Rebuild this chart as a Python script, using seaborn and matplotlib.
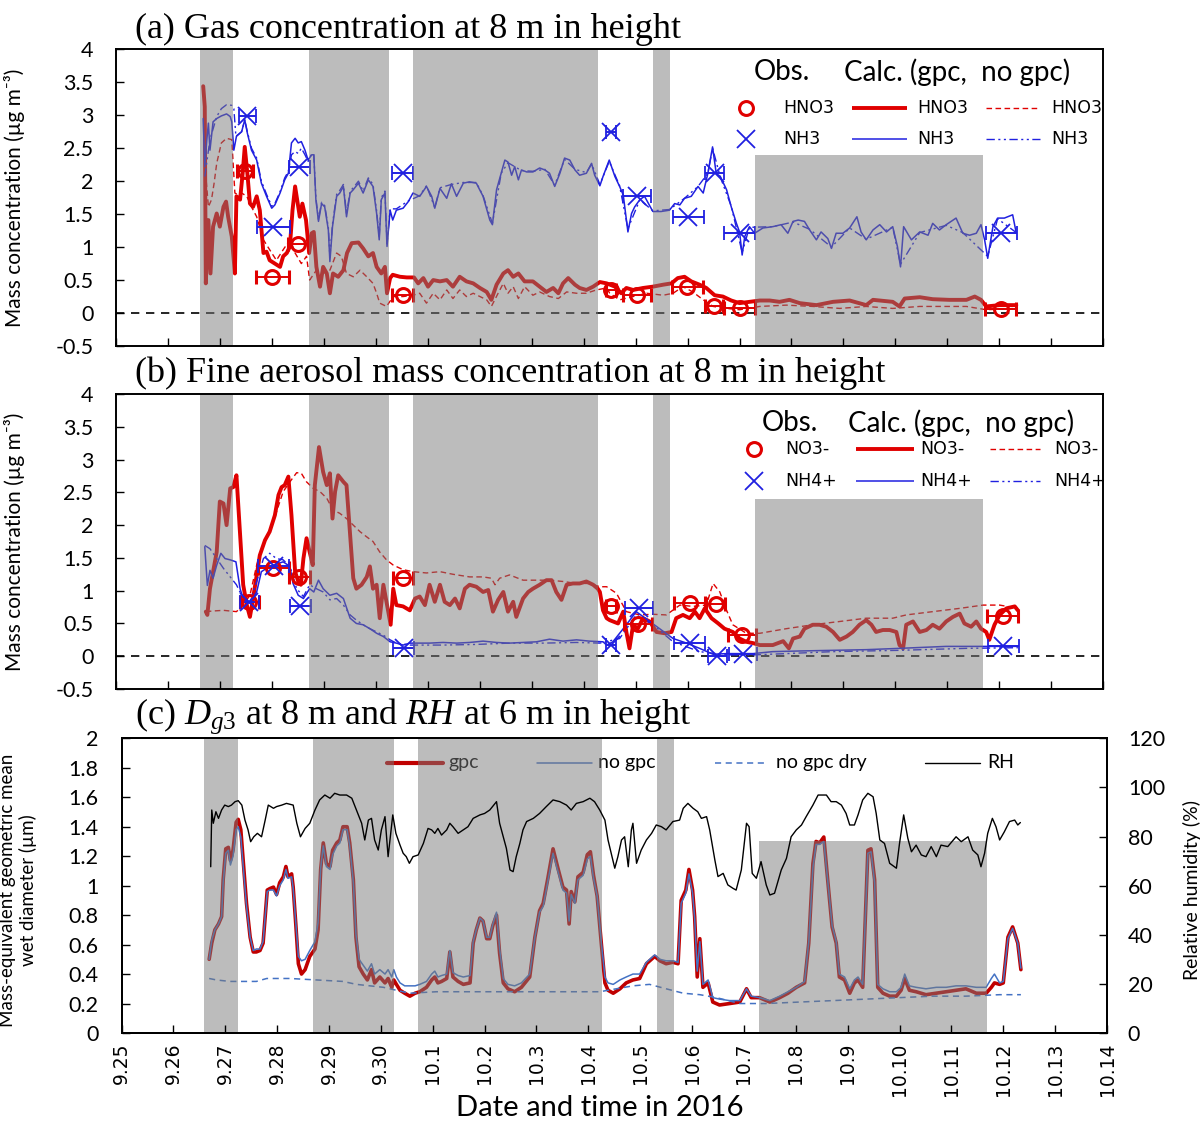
import matplotlib
matplotlib.use("Agg")
import matplotlib.pyplot as plt
import seaborn as sns
import pandas as pd

# ---------------- data (days since 2016-09-25 00:00) ----------------
DAY_LABELS = ["9.25", "9.26", "9.27", "9.28", "9.29", "9.30", "10.1", "10.2", "10.3", "10.4",
              "10.5", "10.6", "10.7", "10.8", "10.9", "10.10", "10.11", "10.12", "10.13", "10.14"]
SHADES = [(1.60, 2.25), (3.70, 5.25), (5.72, 9.27), (10.33, 10.66)]
SHADE_LOW = (12.30, 16.68)          # shaded period drawn only up to a given level
SHADE_LOW_TOP_AB = 2.4
SHADE_LOW_TOP_C = 1.3

# observations: (day, value, half-width of sampling period)
HNO3_OBS = [(2.47, 2.16, 0.15), (3.00, 0.55, 0.32), (3.50, 1.05, 0.20), (5.51, 0.28, 0.20),
            (9.52, 0.35, 0.10), (10.02, 0.27, 0.27), (10.99, 0.40, 0.30), (11.51, 0.11, 0.18),
            (12.00, 0.07, 0.29), (17.03, 0.06, 0.30)]
NH3_OBS = [(2.52, 2.99, 0.17), (3.02, 1.31, 0.32), (3.52, 2.21, 0.20), (5.51, 2.12, 0.20),
           (9.52, 2.75, 0.10), (10.03, 1.78, 0.27), (11.01, 1.46, 0.30), (11.52, 2.12, 0.18),
           (12.00, 1.21, 0.29), (17.04, 1.22, 0.30)]
NO3_OBS = [(2.56, 0.82, 0.18), (3.02, 1.34, 0.30), (3.52, 1.21, 0.20), (5.52, 1.19, 0.20),
           (9.52, 0.77, 0.10), (10.04, 0.49, 0.27), (11.04, 0.81, 0.30), (11.54, 0.79, 0.18),
           (12.05, 0.33, 0.27), (17.07, 0.61, 0.30)]
NH4_OBS = [(2.56, 0.83, 0.18), (3.03, 1.37, 0.30), (3.54, 0.76, 0.20), (5.53, 0.12, 0.20),
           (9.52, 0.17, 0.10), (10.06, 0.73, 0.27), (11.04, 0.20, 0.30), (11.57, 0.00, 0.18),
           (12.06, 0.04, 0.27), (17.08, 0.16, 0.30)]

HNO3_GPC = [(1.67, 3.44), (1.70, 3.13), (1.72, 0.45), (1.77, 1.41), (1.81, 0.60), (1.86, 1.31),
            (1.93, 1.51), (1.99, 1.31), (2.06, 1.61), (2.11, 1.69), (2.15, 1.46), (2.22, 1.16),
            (2.28, 0.60), (2.31, 1.77), (2.38, 1.72), (2.43, 2.12), (2.47, 2.52), (2.52, 2.12),
            (2.57, 1.66), (2.63, 1.61), (2.70, 1.77), (2.76, 1.56), (2.83, 0.91), (2.89, 0.93),
            (2.95, 0.80), (3.05, 0.75), (3.15, 0.70), (3.21, 0.86), (3.28, 0.91), (3.34, 1.01),
            (3.39, 1.56), (3.44, 1.92), (3.48, 1.72), (3.53, 1.46), (3.58, 1.66), (3.65, 1.41),
            (3.71, 0.91), (3.76, 1.21), (3.80, 1.23), (3.85, 0.70), (3.92, 0.40), (3.98, 0.70),
            (4.05, 0.60), (4.11, 0.30), (4.17, 0.60), (4.27, 0.55), (4.37, 0.65), (4.44, 0.91),
            (4.53, 1.06), (4.66, 1.07), (4.75, 0.98), (4.85, 0.86), (4.94, 0.91), (5.01, 0.70),
            (5.10, 0.60), (5.17, 0.70), (5.21, 0.30), (5.27, 0.53), (5.32, 0.58), (5.46, 0.55),
            (5.59, 0.54), (5.73, 0.54), (5.81, 0.45), (5.91, 0.53), (6.00, 0.40), (6.10, 0.50),
            (6.23, 0.48), (6.36, 0.50), (6.48, 0.40), (6.61, 0.55), (6.74, 0.48), (6.87, 0.45),
            (7.00, 0.38), (7.13, 0.32), (7.22, 0.20), (7.32, 0.43), (7.45, 0.60), (7.54, 0.65),
            (7.64, 0.55), (7.74, 0.60), (7.86, 0.48), (8.02, 0.48), (8.15, 0.40), (8.28, 0.32),
            (8.41, 0.38), (8.51, 0.30), (8.60, 0.45), (8.70, 0.53), (8.83, 0.43), (8.92, 0.38),
            (9.05, 0.35), (9.18, 0.40), (9.31, 0.47), (9.44, 0.45), (9.60, 0.40), (9.72, 0.30),
            (9.82, 0.38), (9.95, 0.35), (10.14, 0.38), (10.33, 0.40), (10.53, 0.43), (10.69, 0.45),
            (10.81, 0.53), (10.94, 0.55), (11.07, 0.48), (11.23, 0.43), (11.36, 0.38), (11.52, 0.27),
            (11.68, 0.25), (11.84, 0.19), (12.00, 0.15), (12.19, 0.17), (12.39, 0.19), (12.58, 0.19),
            (12.77, 0.17), (12.96, 0.20), (13.16, 0.15), (13.48, 0.12), (13.80, 0.17), (14.12, 0.19),
            (14.44, 0.12), (14.57, 0.20), (14.95, 0.17), (15.08, 0.10), (15.18, 0.22), (15.47, 0.24),
            (15.72, 0.21), (16.04, 0.20), (16.37, 0.20), (16.53, 0.25), (16.65, 0.20), (16.75, 0.10),
            (17.01, 0.12), (17.33, 0.12)]
HNO3_NOGPC = [(1.70, 2.27), (1.77, 1.61), (1.83, 1.72), (1.88, 1.97), (1.93, 2.27), (2.02, 2.58),
              (2.12, 2.65), (2.22, 2.63), (2.28, 1.82), (2.35, 1.79), (2.41, 1.82), (2.51, 1.77),
              (2.60, 1.61), (2.70, 1.46), (2.83, 1.11), (2.95, 0.96), (3.08, 0.80), (3.21, 0.96),
              (3.34, 1.11), (3.44, 0.91), (3.56, 0.75), (3.66, 0.86), (3.72, 0.50), (3.85, 0.65),
              (3.98, 0.60), (4.11, 0.65), (4.24, 0.91), (4.33, 0.86), (4.43, 0.60), (4.56, 0.55),
              (4.69, 0.65), (4.82, 0.55), (4.94, 0.45), (5.01, 0.30), (5.07, 0.15), (5.20, 0.10),
              (5.33, 0.25), (5.52, 0.25), (5.71, 0.27), (5.84, 0.30), (5.97, 0.15), (6.10, 0.30),
              (6.23, 0.20), (6.36, 0.35), (6.48, 0.22), (6.61, 0.35), (6.74, 0.25), (6.87, 0.30),
              (7.00, 0.25), (7.13, 0.20), (7.22, 0.10), (7.35, 0.30), (7.45, 0.45), (7.54, 0.30),
              (7.64, 0.40), (7.74, 0.22), (7.86, 0.40), (8.02, 0.27), (8.15, 0.32), (8.34, 0.25),
              (8.51, 0.22), (8.67, 0.32), (8.86, 0.30), (9.05, 0.30), (9.24, 0.35), (9.44, 0.38),
              (9.50, 0.30), (9.69, 0.20), (9.95, 0.25), (10.21, 0.30), (10.53, 0.27), (10.72, 0.30),
              (10.91, 0.40), (11.10, 0.32), (11.30, 0.20), (11.49, 0.10), (11.75, 0.07), (12.00, 0.05),
              (12.39, 0.10), (12.90, 0.12), (13.41, 0.10), (13.93, 0.07), (14.44, 0.10), (14.95, 0.07),
              (15.47, 0.10), (15.98, 0.10), (16.37, 0.10), (16.75, 0.05), (17.33, 0.07)]
NH3_GPC = [(1.67, 2.95), (1.70, 2.22), (1.74, 2.63), (1.77, 2.88), (1.80, 2.47), (1.86, 2.90),
           (1.93, 2.95), (2.02, 2.99), (2.12, 3.02), (2.19, 2.98), (2.22, 2.90), (2.26, 2.47),
           (2.31, 2.68), (2.41, 2.75), (2.47, 2.93), (2.52, 2.73), (2.60, 2.47), (2.70, 2.32),
           (2.79, 1.97), (2.89, 1.77), (2.99, 1.59), (3.05, 1.64), (3.15, 1.82), (3.24, 2.02),
           (3.31, 2.12), (3.37, 2.58), (3.44, 2.65), (3.50, 2.58), (3.56, 2.60), (3.63, 2.47),
           (3.69, 2.32), (3.76, 2.40), (3.80, 2.40), (3.84, 1.72), (3.89, 1.39), (3.95, 1.66),
           (4.01, 1.61), (4.08, 1.26), (4.11, 0.78), (4.16, 1.31), (4.24, 1.77), (4.30, 1.82),
           (4.37, 1.92), (4.43, 1.46), (4.50, 1.82), (4.56, 1.87), (4.66, 1.97), (4.75, 1.82),
           (4.85, 2.02), (4.94, 1.92), (5.01, 1.51), (5.06, 1.11), (5.10, 1.72), (5.17, 1.82),
           (5.21, 1.01), (5.27, 1.56), (5.32, 1.41), (5.39, 1.56), (5.52, 1.59), (5.62, 1.69),
           (5.71, 1.82), (5.84, 1.77), (5.97, 1.92), (6.07, 1.77), (6.13, 1.59), (6.23, 1.89),
           (6.36, 1.74), (6.45, 1.96), (6.55, 1.77), (6.68, 1.97), (6.80, 1.99), (6.93, 1.97),
           (7.06, 1.77), (7.19, 1.41), (7.24, 1.34), (7.32, 1.87), (7.41, 2.12), (7.48, 2.32),
           (7.54, 2.29), (7.61, 2.09), (7.67, 2.22), (7.74, 2.02), (7.80, 2.17), (7.90, 2.14),
           (8.02, 2.14), (8.15, 2.20), (8.25, 2.17), (8.34, 2.12), (8.44, 1.92), (8.54, 2.12),
           (8.63, 2.35), (8.73, 2.32), (8.83, 2.17), (8.92, 2.09), (9.05, 2.12), (9.15, 2.27),
           (9.21, 2.09), (9.31, 1.93), (9.37, 2.07), (9.49, 2.32), (9.60, 2.07), (9.69, 1.92),
           (9.76, 1.79), (9.85, 1.23), (9.92, 1.51), (9.98, 1.61), (10.08, 1.72), (10.17, 1.77),
           (10.33, 1.54), (10.49, 1.54), (10.65, 1.56), (10.75, 1.66), (10.85, 1.64), (10.94, 1.74),
           (11.07, 1.77), (11.20, 1.92), (11.30, 1.82), (11.39, 2.12), (11.48, 2.52), (11.55, 2.12),
           (11.63, 2.07), (11.75, 1.87), (11.84, 1.61), (11.94, 1.36), (12.00, 1.23), (12.05, 0.88),
           (12.10, 1.16), (12.19, 1.31), (12.29, 1.21), (12.45, 1.29), (12.64, 1.31), (12.80, 1.34),
           (12.93, 1.21), (13.03, 1.39), (13.13, 1.41), (13.25, 1.39), (13.35, 1.26), (13.48, 1.11),
           (13.57, 1.23), (13.70, 1.13), (13.77, 0.98), (13.86, 1.21), (13.99, 1.21), (14.12, 1.29),
           (14.26, 1.46), (14.34, 1.23), (14.44, 1.11), (14.57, 1.26), (14.70, 1.34), (14.83, 1.23),
           (14.95, 1.31), (15.04, 1.01), (15.10, 0.70), (15.16, 1.31), (15.31, 1.11), (15.47, 1.23),
           (15.63, 1.18), (15.72, 1.36), (15.85, 1.26), (15.98, 1.34), (16.17, 1.44), (16.30, 1.21),
           (16.43, 1.18), (16.56, 1.21), (16.65, 1.34), (16.72, 1.11), (16.78, 0.83), (16.88, 1.31),
           (16.97, 1.44), (17.10, 1.44), (17.26, 1.49), (17.33, 1.21)]
NH3_NOGPC = [(1.70, 2.07), (1.80, 2.63), (1.93, 2.98), (2.02, 3.10), (2.12, 3.16), (2.22, 3.15),
             (2.26, 3.10), (2.30, 2.68), (2.41, 2.75), (2.47, 2.93), (2.52, 2.75), (2.60, 2.50),
             (2.70, 2.35), (2.79, 2.00), (2.89, 1.80), (2.99, 1.62), (3.05, 1.66), (3.15, 1.84),
             (3.24, 2.05), (3.31, 2.15), (3.37, 2.40), (3.44, 2.45), (3.50, 2.42), (3.56, 2.50),
             (3.63, 2.40), (3.69, 2.30), (3.76, 2.42), (3.80, 2.40), (3.84, 1.75), (3.89, 1.42),
             (3.95, 1.68), (4.01, 1.63), (4.08, 1.30), (4.11, 0.85), (4.16, 1.35), (4.24, 1.80),
             (4.30, 1.86), (4.37, 1.95), (4.43, 1.50), (4.50, 1.85), (4.56, 1.90), (4.66, 2.00),
             (4.75, 1.85), (4.85, 2.05), (4.94, 1.95), (5.01, 1.55), (5.06, 1.15), (5.10, 1.75),
             (5.17, 1.85), (5.21, 1.05), (5.27, 1.58), (5.39, 1.58), (5.62, 1.70), (5.84, 1.78),
             (5.97, 1.93), (6.13, 1.60), (6.23, 1.90), (6.45, 1.95), (6.68, 1.98), (6.93, 1.98),
             (7.06, 1.78), (7.24, 1.36), (7.41, 2.12), (7.54, 2.28), (7.67, 2.22), (7.80, 2.16),
             (8.02, 2.15), (8.25, 2.18), (8.44, 1.94), (8.63, 2.33), (8.83, 2.18), (9.05, 2.13),
             (9.15, 2.26), (9.31, 1.95), (9.49, 2.30), (9.69, 1.93), (9.85, 1.28), (10.08, 1.72),
             (10.33, 1.55), (10.65, 1.57), (10.94, 1.74), (11.20, 1.92), (11.39, 2.12), (11.48, 2.50),
             (11.63, 2.06), (11.84, 1.62), (12.05, 0.92), (12.19, 1.30), (12.64, 1.31), (13.03, 1.38),
             (13.35, 1.27), (13.77, 1.00), (14.12, 1.29), (14.44, 1.12), (14.95, 1.30), (15.10, 0.74),
             (15.47, 1.22), (15.98, 1.33), (16.30, 1.22), (16.78, 0.86), (16.97, 1.43), (17.33, 1.22)]

NO3_GPC = [(1.72, 0.68), (1.75, 0.63), (1.80, 1.03), (1.86, 1.29), (1.93, 1.59), (1.99, 2.36),
           (2.06, 2.33), (2.12, 2.00), (2.19, 2.56), (2.25, 2.58), (2.31, 2.76), (2.38, 1.85),
           (2.44, 1.09), (2.51, 0.78), (2.57, 0.60), (2.62, 0.83), (2.69, 1.19), (2.76, 1.54),
           (2.86, 1.77), (2.95, 1.90), (3.05, 2.15), (3.12, 2.46), (3.18, 2.58), (3.24, 2.61),
           (3.31, 2.74), (3.37, 2.15), (3.44, 1.29), (3.50, 1.14), (3.55, 1.09), (3.60, 1.49),
           (3.66, 1.80), (3.72, 1.59), (3.78, 1.39), (3.82, 2.61), (3.90, 3.19), (3.98, 2.81),
           (4.05, 2.61), (4.11, 2.79), (4.16, 2.10), (4.21, 2.51), (4.27, 2.76), (4.37, 2.66),
           (4.43, 2.61), (4.50, 1.85), (4.56, 1.19), (4.62, 1.03), (4.72, 1.09), (4.82, 1.21),
           (4.88, 1.37), (4.94, 1.03), (5.01, 1.09), (5.07, 0.58), (5.14, 1.09), (5.20, 0.83),
           (5.28, 0.48), (5.33, 1.03), (5.39, 0.78), (5.52, 0.76), (5.65, 0.70), (5.75, 0.88),
           (5.84, 0.91), (5.94, 0.78), (6.03, 1.09), (6.13, 0.83), (6.23, 1.09), (6.32, 0.83),
           (6.42, 0.78), (6.52, 0.88), (6.61, 0.73), (6.71, 1.03), (6.80, 1.09), (6.93, 1.06),
           (7.06, 0.98), (7.16, 1.01), (7.25, 0.68), (7.35, 0.86), (7.45, 0.98), (7.54, 0.68),
           (7.64, 0.83), (7.70, 0.60), (7.83, 0.88), (7.93, 0.98), (8.02, 1.03), (8.15, 1.09),
           (8.28, 1.16), (8.38, 1.16), (8.47, 0.98), (8.57, 0.86), (8.67, 1.09), (8.79, 1.11),
           (8.92, 1.11), (9.05, 1.14), (9.18, 1.09), (9.27, 1.03), (9.31, 0.98), (9.37, 0.70),
           (9.44, 0.58), (9.50, 0.55), (9.66, 0.50), (9.76, 0.68), (9.82, 0.37), (9.88, 0.12),
           (9.95, 0.48), (10.04, 0.42), (10.14, 0.58), (10.27, 0.53), (10.40, 0.37), (10.56, 0.35),
           (10.69, 0.37), (10.78, 0.58), (10.91, 0.63), (11.04, 0.58), (11.14, 0.68), (11.23, 0.58),
           (11.33, 0.73), (11.46, 0.58), (11.59, 0.50), (11.71, 0.42), (11.87, 0.37), (12.00, 0.27),
           (12.13, 0.22), (12.26, 0.20), (12.39, 0.17), (12.64, 0.17), (12.84, 0.23), (12.95, 0.12),
           (13.03, 0.27), (13.16, 0.30), (13.25, 0.42), (13.41, 0.48), (13.54, 0.48), (13.67, 0.45),
           (13.80, 0.37), (13.93, 0.25), (14.06, 0.30), (14.18, 0.37), (14.31, 0.48), (14.44, 0.55),
           (14.54, 0.48), (14.63, 0.37), (14.76, 0.40), (14.89, 0.40), (15.02, 0.37), (15.08, 0.17),
           (15.15, 0.12), (15.21, 0.48), (15.34, 0.53), (15.47, 0.37), (15.60, 0.40), (15.72, 0.48),
           (15.85, 0.42), (15.98, 0.53), (16.11, 0.60), (16.24, 0.65), (16.33, 0.50), (16.46, 0.45),
           (16.56, 0.53), (16.65, 0.42), (16.75, 0.37), (16.81, 0.25), (16.91, 0.48), (17.01, 0.63),
           (17.14, 0.73), (17.30, 0.76), (17.36, 0.70)]
NO3_NOGPC = [(1.72, 0.68), (1.86, 0.69), (2.06, 0.70), (2.31, 0.68), (2.44, 0.78), (2.57, 0.93),
             (2.70, 1.39), (2.83, 1.70), (2.95, 1.90), (3.08, 2.20), (3.21, 2.51), (3.34, 2.66),
             (3.47, 2.80), (3.56, 2.79), (3.66, 2.66), (3.79, 2.56), (3.92, 2.51), (4.05, 2.41),
             (4.17, 2.23), (4.30, 2.18), (4.43, 2.10), (4.56, 2.00), (4.69, 1.90), (4.82, 1.82),
             (4.94, 1.75), (5.07, 1.59), (5.20, 1.47), (5.33, 1.39), (5.52, 1.32), (5.71, 1.29),
             (5.97, 1.27), (6.23, 1.29), (6.48, 1.25), (6.80, 1.21), (7.06, 1.21), (7.22, 1.19),
             (7.29, 1.09), (7.38, 1.19), (7.57, 1.24), (7.83, 1.16), (8.09, 1.16), (8.34, 1.16),
             (8.60, 1.14), (8.86, 1.11), (9.11, 1.11), (9.31, 1.06), (9.44, 1.06), (9.63, 0.96),
             (9.82, 0.68), (10.08, 0.63), (10.33, 0.64), (10.59, 0.63), (10.85, 0.78), (11.10, 0.76),
             (11.36, 0.78), (11.49, 1.11), (11.62, 0.98), (11.75, 0.70), (11.87, 0.48), (12.13, 0.35),
             (12.39, 0.35), (12.90, 0.42), (13.41, 0.48), (13.93, 0.53), (14.44, 0.58), (14.95, 0.58),
             (15.21, 0.63), (15.72, 0.68), (16.24, 0.73), (16.69, 0.78), (17.01, 0.78), (17.36, 0.73)]
NH4_GPC = [(1.70, 1.67), (1.75, 1.08), (1.80, 1.31), (1.86, 1.19), (1.93, 1.39), (2.01, 1.57),
           (2.09, 1.49), (2.19, 1.47), (2.30, 1.44), (2.38, 1.03), (2.44, 0.88), (2.51, 0.83),
           (2.57, 0.81), (2.70, 0.98), (2.79, 1.29), (2.89, 1.34), (3.02, 1.39), (3.21, 1.44),
           (3.34, 1.37), (3.40, 1.11), (3.50, 0.93), (3.60, 0.88), (3.72, 1.03), (3.80, 0.98),
           (3.89, 1.16), (3.98, 1.03), (4.11, 0.93), (4.24, 0.96), (4.37, 0.88), (4.50, 0.58),
           (4.62, 0.50), (4.75, 0.48), (4.88, 0.42), (5.01, 0.35), (5.14, 0.30), (5.27, 0.22),
           (5.39, 0.20), (5.52, 0.17), (5.65, 0.20), (6.03, 0.20), (6.29, 0.21), (6.55, 0.20),
           (6.80, 0.21), (7.06, 0.23), (7.32, 0.21), (7.57, 0.20), (7.83, 0.21), (8.09, 0.22),
           (8.34, 0.26), (8.60, 0.23), (8.86, 0.25), (9.11, 0.23), (9.37, 0.22), (9.44, 0.17),
           (9.56, 0.22), (9.69, 0.35), (9.82, 0.48), (10.01, 0.68), (10.27, 0.53), (10.46, 0.42),
           (10.72, 0.27), (10.98, 0.20), (11.23, 0.12), (11.49, 0.03), (11.75, 0.04), (12.26, 0.04),
           (12.64, 0.07), (13.16, 0.08), (13.80, 0.09), (14.44, 0.10), (15.08, 0.12), (15.98, 0.15),
           (16.69, 0.15), (17.36, 0.15)]
NH4_NOGPC = [(1.70, 1.69), (1.80, 1.64), (1.93, 1.49), (2.06, 1.34), (2.19, 1.21), (2.31, 1.09),
             (2.44, 0.88), (2.57, 0.83), (2.70, 1.14), (2.83, 1.49), (2.95, 1.57), (3.08, 1.49),
             (3.21, 1.47), (3.34, 1.37), (3.47, 1.03), (3.60, 0.91), (3.72, 1.09), (3.85, 1.03),
             (3.98, 0.98), (4.11, 0.86), (4.24, 0.88), (4.37, 0.78), (4.50, 0.63), (4.62, 0.55),
             (4.75, 0.48), (4.88, 0.42), (5.01, 0.37), (5.14, 0.32), (5.27, 0.25), (5.39, 0.20),
             (5.65, 0.17), (6.29, 0.17), (6.93, 0.18), (7.57, 0.20), (8.22, 0.20), (8.86, 0.21),
             (9.31, 0.20), (9.69, 0.27), (10.01, 0.63), (10.33, 0.48), (10.72, 0.22), (11.23, 0.07),
             (11.75, 0.02), (12.26, 0.02), (12.90, 0.04), (13.80, 0.07), (15.08, 0.09), (16.37, 0.12),
             (17.36, 0.13)]

DG3_GPC = [(1.69, 0.50), (1.74, 0.61), (1.80, 0.70), (1.87, 0.74), (1.93, 0.79), (1.96, 1.04),
           (2.01, 1.25), (2.06, 1.26), (2.10, 1.17), (2.15, 1.24), (2.21, 1.43), (2.25, 1.45),
           (2.30, 1.38), (2.35, 1.15), (2.41, 0.88), (2.48, 0.65), (2.54, 0.55), (2.60, 0.55),
           (2.67, 0.56), (2.73, 0.61), (2.81, 0.97), (2.86, 0.98), (2.93, 0.99), (2.99, 0.94),
           (3.05, 1.02), (3.12, 1.06), (3.17, 1.13), (3.21, 1.06), (3.28, 1.08), (3.31, 0.99),
           (3.36, 0.74), (3.41, 0.47), (3.47, 0.40), (3.54, 0.43), (3.63, 0.52), (3.73, 0.57),
           (3.79, 0.70), (3.84, 1.11), (3.89, 1.29), (3.95, 1.15), (4.02, 1.13), (4.07, 1.24),
           (4.15, 1.29), (4.21, 1.31), (4.27, 1.40), (4.35, 1.40), (4.40, 1.29), (4.47, 1.04),
           (4.52, 0.65), (4.58, 0.45), (4.66, 0.40), (4.74, 0.36), (4.82, 0.43), (4.88, 0.34),
           (4.98, 0.38), (5.08, 0.34), (5.14, 0.37), (5.21, 0.31), (5.25, 0.36), (5.30, 0.33),
           (5.37, 0.29), (5.46, 0.27), (5.56, 0.25), (5.66, 0.27), (5.75, 0.28), (5.88, 0.31),
           (5.98, 0.36), (6.04, 0.38), (6.10, 0.34), (6.17, 0.35), (6.27, 0.37), (6.33, 0.55),
           (6.39, 0.38), (6.49, 0.35), (6.59, 0.33), (6.72, 0.34), (6.78, 0.61), (6.84, 0.70),
           (6.91, 0.78), (6.97, 0.76), (7.04, 0.64), (7.10, 0.64), (7.16, 0.73), (7.23, 0.80),
           (7.29, 0.54), (7.36, 0.34), (7.45, 0.30), (7.58, 0.28), (7.71, 0.31), (7.87, 0.38),
           (7.97, 0.65), (8.06, 0.83), (8.13, 0.88), (8.22, 1.05), (8.32, 1.25), (8.42, 1.11),
           (8.51, 0.99), (8.58, 0.97), (8.63, 0.74), (8.67, 0.96), (8.74, 0.89), (8.80, 1.06),
           (8.90, 1.09), (8.98, 1.21), (9.04, 1.23), (9.10, 1.07), (9.17, 0.93), (9.25, 0.61),
           (9.32, 0.34), (9.38, 0.29), (9.48, 0.27), (9.61, 0.30), (9.73, 0.34), (9.86, 0.36),
           (9.99, 0.37), (10.12, 0.47), (10.28, 0.52), (10.38, 0.49), (10.50, 0.47), (10.63, 0.48),
           (10.73, 0.47), (10.79, 0.90), (10.88, 0.97), (10.94, 1.11), (11.01, 0.97), (11.05, 0.79),
           (11.10, 0.38), (11.15, 0.64), (11.21, 0.31), (11.31, 0.34), (11.40, 0.21), (11.53, 0.19),
           (11.72, 0.20), (11.92, 0.21), (12.05, 0.30), (12.14, 0.24), (12.30, 0.24), (12.50, 0.21),
           (12.69, 0.24), (12.85, 0.27), (13.01, 0.31), (13.17, 0.34), (13.25, 0.61), (13.33, 1.15),
           (13.39, 1.30), (13.46, 1.29), (13.54, 1.33), (13.62, 1.02), (13.70, 0.72), (13.78, 0.61),
           (13.84, 0.38), (13.94, 0.36), (14.04, 0.27), (14.13, 0.34), (14.20, 0.36), (14.29, 0.31),
           (14.39, 1.24), (14.45, 1.25), (14.52, 1.04), (14.58, 0.31), (14.68, 0.27), (14.81, 0.25),
           (14.94, 0.25), (15.03, 0.29), (15.10, 0.37), (15.19, 0.29), (15.32, 0.28), (15.51, 0.26),
           (15.71, 0.27), (15.90, 0.28), (16.09, 0.29), (16.28, 0.30), (16.48, 0.27), (16.67, 0.27),
           (16.77, 0.31), (16.83, 0.34), (16.93, 0.33), (17.00, 0.34), (17.09, 0.65), (17.18, 0.72),
           (17.28, 0.61), (17.34, 0.43)]
DG3_NOGPC = [(1.69, 0.50), (1.74, 0.63), (1.80, 0.70), (1.87, 0.74), (1.93, 0.79), (1.96, 1.02),
             (2.01, 1.22), (2.06, 1.24), (2.10, 1.14), (2.15, 1.20), (2.21, 1.38), (2.25, 1.40),
             (2.30, 1.33), (2.35, 1.12), (2.41, 0.86), (2.48, 0.65), (2.54, 0.56), (2.60, 0.57),
             (2.67, 0.57), (2.73, 0.62), (2.81, 0.96), (2.86, 0.97), (2.93, 0.97), (2.99, 0.93),
             (3.05, 1.00), (3.12, 1.04), (3.17, 1.11), (3.21, 1.05), (3.28, 1.06), (3.31, 0.98),
             (3.36, 0.75), (3.41, 0.52), (3.47, 0.49), (3.54, 0.50), (3.63, 0.56), (3.73, 0.62),
             (3.79, 0.75), (3.84, 1.12), (3.89, 1.27), (3.95, 1.13), (4.02, 1.11), (4.07, 1.21),
             (4.15, 1.27), (4.21, 1.29), (4.27, 1.38), (4.35, 1.38), (4.40, 1.27), (4.47, 1.02),
             (4.52, 0.67), (4.58, 0.50), (4.66, 0.46), (4.74, 0.42), (4.82, 0.47), (4.88, 0.40),
             (4.98, 0.43), (5.08, 0.40), (5.14, 0.43), (5.21, 0.38), (5.25, 0.43), (5.30, 0.38),
             (5.37, 0.34), (5.46, 0.32), (5.56, 0.32), (5.66, 0.32), (5.75, 0.33), (5.88, 0.35),
             (5.98, 0.40), (6.04, 0.42), (6.10, 0.38), (6.17, 0.39), (6.27, 0.40), (6.33, 0.56),
             (6.39, 0.41), (6.49, 0.39), (6.59, 0.38), (6.72, 0.39), (6.78, 0.62), (6.84, 0.70),
             (6.91, 0.78), (6.97, 0.76), (7.04, 0.65), (7.10, 0.65), (7.16, 0.74), (7.23, 0.82),
             (7.29, 0.57), (7.36, 0.37), (7.45, 0.33), (7.58, 0.32), (7.71, 0.34), (7.87, 0.40),
             (7.97, 0.65), (8.06, 0.82), (8.13, 0.86), (8.22, 1.03), (8.32, 1.22), (8.42, 1.09),
             (8.51, 0.97), (8.58, 0.95), (8.63, 0.76), (8.67, 0.94), (8.74, 0.88), (8.80, 1.04),
             (8.90, 1.07), (8.98, 1.18), (9.04, 1.20), (9.10, 1.05), (9.17, 0.93), (9.25, 0.62),
             (9.32, 0.38), (9.38, 0.34), (9.48, 0.33), (9.61, 0.36), (9.73, 0.38), (9.86, 0.40),
             (9.99, 0.40), (10.12, 0.48), (10.28, 0.53), (10.38, 0.50), (10.50, 0.49), (10.63, 0.49),
             (10.73, 0.48), (10.79, 0.88), (10.88, 0.95), (10.94, 1.08), (11.01, 0.95), (11.05, 0.78),
             (11.10, 0.42), (11.15, 0.62), (11.21, 0.33), (11.31, 0.36), (11.40, 0.24), (11.53, 0.23),
             (11.72, 0.22), (11.92, 0.22), (12.05, 0.30), (12.14, 0.25), (12.30, 0.24), (12.50, 0.22),
             (12.69, 0.25), (12.85, 0.28), (13.01, 0.31), (13.17, 0.35), (13.25, 0.62), (13.33, 1.12),
             (13.39, 1.28), (13.46, 1.28), (13.54, 1.30), (13.62, 1.02), (13.70, 0.73), (13.78, 0.62),
             (13.84, 0.40), (13.94, 0.38), (14.04, 0.30), (14.13, 0.36), (14.20, 0.38), (14.29, 0.33),
             (14.39, 1.22), (14.45, 1.23), (14.52, 1.02), (14.58, 0.33), (14.68, 0.30), (14.81, 0.28),
             (14.94, 0.28), (15.03, 0.31), (15.10, 0.40), (15.19, 0.32), (15.32, 0.31), (15.51, 0.30),
             (15.71, 0.31), (15.90, 0.31), (16.09, 0.32), (16.28, 0.32), (16.48, 0.31), (16.67, 0.31),
             (16.77, 0.37), (16.83, 0.40), (16.93, 0.34), (17.00, 0.35), (17.09, 0.64), (17.18, 0.71),
             (17.28, 0.61), (17.34, 0.44)]
DG3_DRY = [(1.69, 0.37), (1.83, 0.36), (2.09, 0.35), (2.35, 0.35), (2.60, 0.35), (2.80, 0.37),
           (3.25, 0.37), (3.76, 0.36), (4.27, 0.35), (4.53, 0.33), (5.05, 0.31), (5.30, 0.29),
           (5.56, 0.27), (6.07, 0.28), (7.49, 0.28), (8.77, 0.28), (9.22, 0.28), (9.54, 0.30),
           (9.86, 0.32), (10.18, 0.33), (10.50, 0.30), (10.83, 0.27), (11.15, 0.26), (11.47, 0.24),
           (11.92, 0.20), (12.43, 0.20), (13.07, 0.21), (13.72, 0.22), (14.36, 0.23), (15.00, 0.24),
           (15.64, 0.25), (16.28, 0.25), (16.93, 0.26), (17.34, 0.26)]
RH = [(1.72, 67.7), (1.74, 90.8), (1.77, 85.4), (1.82, 90.1), (1.87, 87.4), (1.93, 90.8),
      (1.99, 92.8), (2.06, 92.2), (2.12, 92.8), (2.19, 94.2), (2.25, 94.6), (2.32, 92.8),
      (2.38, 86.7), (2.44, 82.7), (2.49, 77.9), (2.55, 79.9), (2.62, 81.3), (2.70, 79.9),
      (2.77, 86.7), (2.83, 92.8), (2.93, 91.5), (2.99, 92.2), (3.09, 92.8), (3.18, 93.5),
      (3.31, 92.8), (3.38, 85.4), (3.45, 79.9), (3.54, 83.3), (3.63, 85.4), (3.73, 90.8),
      (3.82, 94.9), (3.92, 96.9), (4.02, 95.6), (4.11, 97.6), (4.21, 96.9), (4.34, 96.9),
      (4.44, 95.6), (4.53, 90.8), (4.63, 85.4), (4.69, 78.6), (4.76, 86.7), (4.82, 87.4),
      (4.88, 78.6), (4.95, 74.5), (5.01, 82.7), (5.08, 88.1), (5.14, 71.8), (5.23, 88.8),
      (5.29, 81.3), (5.37, 76.5), (5.43, 73.2), (5.49, 71.8), (5.55, 69.1), (5.62, 71.8),
      (5.72, 72.5), (5.82, 77.2), (5.91, 83.3), (5.98, 82.7), (6.04, 81.3), (6.10, 83.3),
      (6.17, 80.6), (6.27, 82.7), (6.33, 85.4), (6.39, 84.0), (6.49, 81.3), (6.59, 82.7),
      (6.68, 84.0), (6.78, 87.4), (6.91, 88.8), (7.00, 89.4), (7.10, 90.8), (7.23, 94.2),
      (7.29, 85.4), (7.36, 79.9), (7.42, 75.2), (7.49, 66.4), (7.55, 65.7), (7.61, 71.8),
      (7.68, 77.2), (7.74, 82.7), (7.81, 86.1), (7.94, 87.4), (8.06, 89.4), (8.19, 92.2),
      (8.32, 94.9), (8.45, 94.2), (8.58, 92.8), (8.67, 90.8), (8.77, 93.5), (8.90, 94.2),
      (9.03, 95.6), (9.12, 94.2), (9.22, 90.8), (9.32, 86.7), (9.38, 78.6), (9.51, 67.1),
      (9.57, 71.8), (9.64, 78.6), (9.70, 79.9), (9.77, 67.7), (9.83, 82.7), (9.86, 85.4),
      (9.93, 69.1), (10.02, 74.5), (10.12, 78.6), (10.22, 81.3), (10.31, 84.7), (10.41, 84.0),
      (10.50, 82.7), (10.63, 86.1), (10.76, 86.7), (10.83, 91.5), (10.92, 93.5), (11.02, 91.5),
      (11.11, 90.1), (11.18, 87.4), (11.28, 88.1), (11.34, 82.7), (11.44, 70.4), (11.50, 63.7),
      (11.60, 65.0), (11.69, 60.3), (11.79, 58.9), (11.85, 58.2), (11.95, 66.4), (12.05, 85.4),
      (12.10, 84.0), (12.16, 65.0), (12.24, 63.0), (12.33, 69.8), (12.43, 60.3), (12.50, 56.2),
      (12.59, 56.9), (12.72, 66.4), (12.82, 71.1), (12.91, 79.9), (13.01, 82.7), (13.11, 84.7),
      (13.20, 88.1), (13.33, 92.8), (13.43, 96.9), (13.59, 96.9), (13.68, 94.2), (13.78, 94.2),
      (13.88, 92.8), (13.97, 89.4), (14.04, 84.7), (14.13, 84.7), (14.20, 88.8), (14.29, 94.9),
      (14.39, 97.6), (14.49, 96.2), (14.55, 89.4), (14.62, 78.6), (14.71, 77.2), (14.81, 69.1),
      (14.94, 67.1), (15.00, 77.2), (15.08, 88.8), (15.16, 79.3), (15.23, 73.8), (15.32, 76.5),
      (15.42, 72.5), (15.51, 71.8), (15.61, 75.9), (15.71, 71.8), (15.80, 76.5), (15.93, 75.9),
      (16.09, 79.9), (16.19, 77.9), (16.32, 79.9), (16.41, 74.5), (16.51, 72.5), (16.57, 67.7),
      (16.64, 73.2), (16.70, 81.3), (16.79, 87.4), (16.86, 84.0), (16.93, 78.6), (17.02, 81.9),
      (17.12, 86.1), (17.22, 86.7), (17.28, 84.7), (17.33, 85.7)]

# ---------------- style ----------------
sns.set_theme(style="ticks", rc={"axes.edgecolor": "black", "xtick.color": "black",
                                 "ytick.color": "black", "text.color": "black",
                                 "axes.labelcolor": "black"})
plt.rcParams["font.family"] = ["Lato", "DejaVu Sans"]
plt.rcParams["mathtext.fontset"] = "custom"
plt.rcParams["mathtext.rm"] = "Liberation Serif"
plt.rcParams["mathtext.it"] = "Liberation Serif:italic"
plt.rcParams["mathtext.bf"] = "Liberation Serif:bold"

RED = "#E00000"
BLUE = "#2020E0"
DKRED = "#C00000"
STEEL = "#4472C4"
SHADE = "#7a7a7a"
W, H = 1200, 1122
fig = plt.figure(figsize=(W / 100, H / 100), dpi=100)

RECT_A = (116.5, 49.3, 1103.0, 346.0)
RECT_B = (116.5, 394.0, 1103.0, 689.0)
RECT_C = (121.5, 738.3, 1107.0, 1033.0)


def make_axes(r):
    L, T, R, B = r
    return fig.add_axes([L / W, 1 - B / H, (R - L) / W, (B - T) / H])


def axc(r, x, y):
    L, T, R, B = r
    return ((x - L) / (R - L), (B - y) / (B - T))


def df(pairs, cols=("t", "v")):
    return pd.DataFrame(pairs, columns=list(cols))


def line(ax, pairs, color, lw, ls="-", z=2.2):
    d = df(pairs)
    sns.lineplot(data=d, x="t", y="v", ax=ax, color=color, lw=lw, linestyle=ls,
                 estimator=None, sort=False, errorbar=None, zorder=z)


def obs(ax, rows, kind, color):
    d = pd.DataFrame(rows, columns=["t", "v", "e"])
    if kind == "o":
        ax.errorbar(d["t"], d["v"], xerr=d["e"], fmt="o", mfc="none", mec=color, ms=10, mew=2.2,
                    ecolor=color, elinewidth=1.4, capsize=5, capthick=1.4, zorder=2.35)
    else:
        ax.errorbar(d["t"], d["v"], xerr=d["e"], fmt="x", color=color, ms=13, mew=1.3,
                    ecolor=color, elinewidth=1.4, capsize=5, capthick=1.4, zorder=2.35)


def shade(ax, ylo, yhi, top):
    for a, b in SHADES:
        ax.axvspan(a, b, color=SHADE, alpha=0.5, lw=0, zorder=2.4)
    ax.axvspan(SHADE_LOW[0], SHADE_LOW[1], ymin=0, ymax=(top - ylo) / (yhi - ylo),
               color=SHADE, alpha=0.5, lw=0, zorder=2.4)


def style_axes(ax, show_x):
    ax.set_axisbelow(False)
    ax.set_xlim(0, 19)
    ax.set_xticks(range(20))
    if show_x:
        ax.set_xticklabels(DAY_LABELS, rotation=90, fontsize=13.5, family="DejaVu Sans")
    else:
        ax.set_xticklabels([])
    ax.tick_params(axis="x", direction="in", length=6, width=1, pad=7)
    ax.tick_params(axis="y", direction="in", length=6, width=1, pad=16.5, labelsize=15.5)
    for s in ax.spines.values():
        s.set_linewidth(1.4)
        s.set_color("black")
    ax.set_xlabel("")
    ax.set_ylabel("")


DASH = (0, (4, 2.5))
DASHDOTDOT = (0, (6, 2.5, 1.5, 2.5, 1.5, 2.5))
YT_AB = [-0.5, 0, 0.5, 1, 1.5, 2, 2.5, 3, 3.5, 4]

# ---------------- panel (a) ----------------
ax_a = make_axes(RECT_A)
line(ax_a, HNO3_NOGPC, RED, 1.0, DASH, 2.15)
line(ax_a, HNO3_GPC, RED, 2.8, "-", 2.2)
line(ax_a, NH3_NOGPC, BLUE, 1.0, DASHDOTDOT, 2.25)
line(ax_a, NH3_GPC, BLUE, 1.1, "-", 2.3)
obs(ax_a, HNO3_OBS, "o", RED)
obs(ax_a, NH3_OBS, "x", BLUE)
ax_a.axhline(0, color="black", lw=1.2, ls=(0, (5, 4)), zorder=2.1)
ax_a.set_ylim(-0.5, 4)
ax_a.set_yticks(YT_AB, labels=["{:g}".format(v) for v in YT_AB])
shade(ax_a, -0.5, 4, SHADE_LOW_TOP_AB)
style_axes(ax_a, False)

# ---------------- panel (b) ----------------
ax_b = make_axes(RECT_B)
line(ax_b, NO3_NOGPC, RED, 1.0, DASH, 2.15)
line(ax_b, NO3_GPC, RED, 2.8, "-", 2.2)
line(ax_b, NH4_NOGPC, BLUE, 1.0, DASHDOTDOT, 2.25)
line(ax_b, NH4_GPC, BLUE, 1.1, "-", 2.3)
obs(ax_b, NO3_OBS, "o", RED)
obs(ax_b, NH4_OBS, "x", BLUE)
ax_b.axhline(0, color="black", lw=1.2, ls=(0, (5, 4)), zorder=2.1)
ax_b.set_ylim(-0.5, 4)
ax_b.set_yticks(YT_AB, labels=["{:g}".format(v) for v in YT_AB])
shade(ax_b, -0.5, 4, SHADE_LOW_TOP_AB)
style_axes(ax_b, False)

for ax in (ax_a, ax_b):
    ax.set_ylabel("Mass concentration (µg m⁻³)", fontsize=15, family=["Lato", "DejaVu Sans"])
    ax.yaxis.set_label_coords(-0.093, 0.5)

# legends (a) and (b)
def ab_legend(ax, r, hy, y1, y2, xo, xt1, xl, xt2, xd, xt3, n1, n2):
    kw = dict(transform=ax.transAxes, clip_on=False)
    ax.text(*axc(r, xo + 8, hy), "Obs.", fontsize=20, va="center", ha="left", **kw)
    ax.text(*axc(r, xl[0] - 8, hy), "Calc. (gpc,  no gpc)", fontsize=20, va="center", ha="left", **kw)
    for yy, name, mk, col, ls2, lw1 in ((y1, n1, "o", RED, DASH, 2.8), (y2, n2, "x", BLUE, DASHDOTDOT, 1.1)):
        p = axc(r, xo, yy)
        if mk == "o":
            ax.plot([p[0]], [p[1]], "o", mfc="none", mec=col, ms=10, mew=2.2, **kw)
        else:
            ax.plot([p[0]], [p[1]], "x", color=col, ms=13, mew=1.3, **kw)
        for xt in (xt1, xt2, xt3):
            ax.text(*axc(r, xt, yy), name, fontsize=12.5, family="DejaVu Sans", va="center", ha="left", **kw)
        a0, a1 = axc(r, xl[0], yy), axc(r, xl[1], yy)
        ax.plot([a0[0], a1[0]], [a0[1], a1[1]], color=col, lw=lw1, solid_capstyle="butt", **kw)
        d0, d1 = axc(r, xd[0], yy), axc(r, xd[1], yy)
        ax.plot([d0[0], d1[0]], [d0[1], d1[1]], color=col, lw=1.0, ls=ls2, **kw)


ab_legend(ax_a, RECT_A, 72, 108, 139, 746, 783, (852, 907), 917, (986, 1040), 1051, "HNO3", "NH3")
ab_legend(ax_b, RECT_B, 423, 449, 481, 754, 785, (856, 914), 920, (990, 1040), 1054, "NO3-", "NH4+")

# ---------------- panel (c) ----------------
ax_c = make_axes(RECT_C)
line(ax_c, DG3_GPC, DKRED, 2.6, "-", 2.2)
line(ax_c, DG3_NOGPC, STEEL, 1.1, "-", 2.3)
line(ax_c, DG3_DRY, STEEL, 1.1, (0, (4, 3)), 2.3)
ax_c.set_ylim(0, 2)
yt_c = [0, 0.2, 0.4, 0.6, 0.8, 1, 1.2, 1.4, 1.6, 1.8, 2]
ax_c.set_yticks(yt_c, labels=["{:g}".format(v) for v in yt_c])
shade(ax_c, 0, 2, SHADE_LOW_TOP_C)
style_axes(ax_c, True)
ax_c.set_ylabel("Mass-equivalent geometric mean\nwet diameter (µm)", fontsize=13.5, linespacing=1.2)
ax_c.yaxis.set_label_coords(-0.086, 0.485)

ax_r = ax_c.twinx()
rh = df(RH)
sns.lineplot(data=rh, x="t", y="v", ax=ax_r, color="black", lw=1.0, estimator=None,
             sort=False, errorbar=None)
ax_r.set_ylim(0, 120)
ax_r.set_yticks([0, 20, 40, 60, 80, 100, 120])
ax_r.tick_params(axis="y", direction="in", length=6, width=1, pad=15, labelsize=15.5)
ax_r.set_xlim(0, 19)
ax_r.set_xlabel("")
ax_r.set_ylabel("Relative humidity (%)", fontsize=14)
ax_r.yaxis.set_label_coords(1.077, 0.485)
for s in ax_r.spines.values():
    s.set_linewidth(1.4)
    s.set_color("black")

# legend (c)
kw = dict(transform=ax_c.transAxes, clip_on=False)
ly = 762.5
for (x0, x1), col, lw, ls, tx, lab in (((387, 443), DKRED, 3.0, "-", 448, "gpc"),
                                        ((537, 592), STEEL, 1.1, "-", 598, "no gpc"),
                                        ((715, 766), STEEL, 1.1, (0, (4, 3)), 776, "no gpc dry"),
                                        ((925, 980), "black", 1.0, "-", 987, "RH")):
    a0, a1 = axc(RECT_C, x0, ly), axc(RECT_C, x1, ly)
    ax_c.plot([a0[0], a1[0]], [a0[1], a1[1]], color=col, lw=lw, ls=ls, zorder=2.1, **kw)
    ax_c.text(*axc(RECT_C, tx, ly), lab, fontsize=14, va="center", ha="left", zorder=2.1, **kw)

# ---------------- titles & x label ----------------
fig.text(135 / W, 1 - 38 / H, "(a) Gas concentration at 8 m in height",
         fontsize=26, family="Liberation Serif", va="baseline")
fig.text(135 / W, 1 - 382 / H, "(b) Fine aerosol mass concentration at 8 m in height",
         fontsize=26, family="Liberation Serif", va="baseline")
fig.text(135 / W, 1 - 724 / H, r"(c) $D_{g3}$ at 8 m and $RH$ at 6 m in height",
         fontsize=26, family="Liberation Serif", va="baseline")
fig.text(600 / W, 1 - 1108 / H, "Date and time in 2016", fontsize=21, ha="center", va="center")

fig.savefig("out.png", dpi=100)
